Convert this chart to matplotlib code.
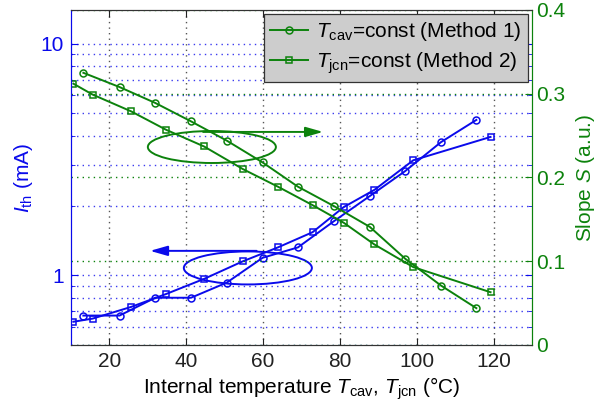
import matplotlib
matplotlib.use('Agg')
import matplotlib.pyplot as plt
from matplotlib.patches import Ellipse
from matplotlib.ticker import LogLocator, NullFormatter, FixedLocator, FixedFormatter

plt.rcParams['font.family'] = ['Liberation Sans', 'DejaVu Sans']
plt.rcParams['mathtext.fontset'] = 'custom'
plt.rcParams['mathtext.rm'] = 'Liberation Sans'
plt.rcParams['mathtext.it'] = 'Liberation Sans:italic'
plt.rcParams['font.size'] = 15

# Method 1 (Tcav = const), circles
temp_cav = [13.3, 22.7, 32.0, 41.3, 50.6, 59.9, 69.1, 78.4, 87.8, 97.0, 106.3, 115.5]
ith_cav = [0.67, 0.67, 0.80, 0.80, 0.93, 1.19, 1.32, 1.71, 2.20, 2.82, 3.76, 4.69]
slope_cav = [0.325, 0.308, 0.289, 0.267, 0.244, 0.218, 0.189, 0.166, 0.141, 0.103, 0.071, 0.044]

# Method 2 (Tjcn = const), squares
temp_jcn = [10.7, 15.7, 25.7, 34.8, 44.7, 54.8, 63.9, 72.9, 81.0, 89.0, 99.1, 119.2]
ith_jcn = [0.63, 0.65, 0.73, 0.83, 0.965, 1.15, 1.32, 1.535, 1.97, 2.34, 3.14, 3.96]
slope_jcn = [0.312, 0.299, 0.279, 0.257, 0.237, 0.210, 0.189, 0.167, 0.146, 0.120, 0.093, 0.063]

blue = '#0a0aeb'
green = '#0c820c'
dots = (0, (1, 3))

fig = plt.figure(figsize=(6.13, 4.09), dpi=100)
ax1 = fig.add_axes([0.1153, 0.1565, 0.7527, 0.8191])
ax2 = ax1.twinx()

# threshold current (left, log)
ax1.set_yscale('log')
ax1.plot(temp_cav, ith_cav, '-o', color=blue, lw=1.4, ms=5, mfc='none', mew=1.1, zorder=3)
ax1.plot(temp_jcn, ith_jcn, '-s', color=blue, lw=1.4, ms=4.5, mfc='none', mew=1.1, zorder=3)
ax1.set_xlim(10, 130)
ax1.set_ylim(0.5, 14)
ax1.set_xticks([20, 40, 60, 80, 100, 120])
ax1.yaxis.set_major_locator(FixedLocator([1, 10]))
ax1.yaxis.set_major_formatter(FixedFormatter(['1', '10']))
ax1.yaxis.set_minor_locator(LogLocator(base=10, subs=range(2, 10)))
ax1.yaxis.set_minor_formatter(NullFormatter())
ax1.grid(True, axis='x', color='#555555', ls=dots, lw=1.0)
ax1.grid(True, axis='y', which='both', color=blue, ls=dots, lw=1.0, alpha=0.8)
ax1.tick_params(axis='x', direction='in', top=True, length=5, pad=5, colors='#222222')
ax1.tick_params(axis='y', which='both', direction='in', right=True, colors=blue, pad=5)
ax1.tick_params(axis='y', which='major', length=5)
ax1.tick_params(axis='y', which='minor', length=3)
ax1.set_ylabel(r'$I_{\rm th}$ (mA)', color=blue, fontsize=15, labelpad=4)
ax1.set_xlabel(r'Internal temperature $T_{\rm cav}$, $T_{\rm jcn}$ ($\degree$C)', fontsize=15, labelpad=3)

# slope (right, linear)
ax2.plot(temp_cav, slope_cav, '-o', color=green, lw=1.4, ms=5, mfc='none', mew=1.1,
         label=r'$T_{\rm cav}$=const (Method 1)')
ax2.plot(temp_jcn, slope_jcn, '-s', color=green, lw=1.4, ms=4.5, mfc='none', mew=1.1,
         label=r'$T_{\rm jcn}$=const (Method 2)')
ax2.set_ylim(0, 0.4)
ax2.set_yticks([0, 0.1, 0.2, 0.3, 0.4])
ax2.set_yticklabels(['0', '0.1', '0.2', '0.3', '0.4'])
ax2.grid(True, axis='y', color=green, ls=dots, lw=1.0)
ax2.tick_params(axis='y', direction='in', colors=green, length=5, pad=3)
ax2.set_ylabel(r'Slope $S$ (a.u.)', color=green, fontsize=15, labelpad=6)

for ax in (ax1, ax2):
    ax.spines['left'].set_color(blue)
    ax.spines['right'].set_color(green)
    ax.spines['top'].set_color('#333333')
    ax.spines['bottom'].set_color('#333333')

# ellipses with arrows marking which curves belong to which axis
ax2.add_patch(Ellipse((0.306, 0.591), 0.2775, 0.0955, transform=ax2.transAxes,
                      fill=False, ec=green, lw=1.4))
ax2.annotate('', xy=(0.547, 0.636), xytext=(0.287, 0.636),
             xycoords='axes fraction', textcoords='axes fraction',
             arrowprops=dict(arrowstyle='-|>,head_length=0.7,head_width=0.2',
                             color=green, lw=1.4, shrinkA=0, shrinkB=0))
ax2.add_patch(Ellipse((0.384, 0.230), 0.2775, 0.0985, transform=ax2.transAxes,
                      fill=False, ec=blue, lw=1.4))
ax2.annotate('', xy=(0.172, 0.281), xytext=(0.403, 0.281),
             xycoords='axes fraction', textcoords='axes fraction',
             arrowprops=dict(arrowstyle='-|>,head_length=0.7,head_width=0.2',
                             color=blue, lw=1.4, shrinkA=0, shrinkB=0))

leg = ax2.legend(loc='upper right', bbox_to_anchor=(0.991, 0.988), fontsize=15,
                 fancybox=False, framealpha=1, handlelength=1.8, handletextpad=0.4,
                 borderpad=0.3, labelspacing=0.35, borderaxespad=0)
leg.get_frame().set_facecolor('#cdcdcd')
leg.get_frame().set_edgecolor('#333333')
leg.get_frame().set_linewidth(0.9)

fig.savefig('out.png', dpi=100)
